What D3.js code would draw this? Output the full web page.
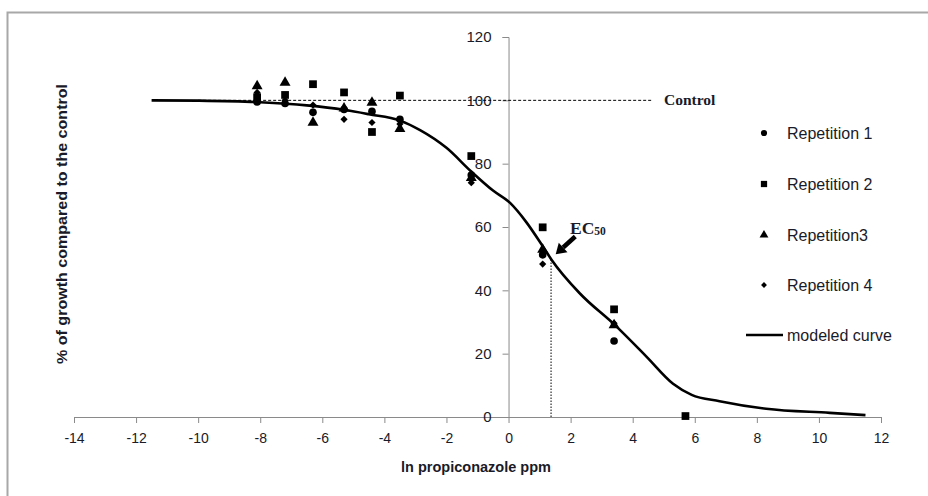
<!DOCTYPE html>
<html>
<head>
<meta charset="utf-8">
<script src="https://cdn.jsdelivr.net/npm/d3@7"></script>
<style>
  html, body { margin: 0; padding: 0; background: #fff; }
  .canvas { width: 928px; height: 496px; }
  text { fill: #1a1a28; }
</style>
</head>
<body>
<div class="canvas"></div>
<script>
// data
const lnDose = [-8.1, -7.2, -6.3, -5.3, -4.4, -3.5, -1.2, 1.1, 3.4, 5.7];
const rep1 = [99.5, 99, 96.2, 97.1, 96.5, 94, 76.4, 51.2, 24, null];
const rep2 = [101, 101.7, 105.1, 102.5, 90, 101.5, 82.4, 59.9, 34, 0.3];
const rep3 = [104.5, 105.6, 93, 97.5, 99.3, 91, 75.5, 52.9, 29, null];
const rep4 = [102.5, 100, 98.5, 94, 93, 92.5, 74, 48.3, 29.6, null];

const curveX = [-11.5, -10, -8, -6.5, -5.3, -4.5, -3.5, -2.85, -2, -1.2, -0.5, 0.05, 0.56, 1.11, 1.39, 2.3, 3.43, 4.45, 5.3, 5.9, 6.8, 8.3, 10.35, 11.5];
const curveY = [100, 99.9, 99.4, 98.4, 97, 95.6, 93.6, 90.6, 85, 77.5, 71.5, 67.6, 61.7, 53.8, 49.6, 39, 29, 19, 10.5, 7, 5, 2.6, 1.3, 0.6];

const xTicks = d3.range(-14, 13, 2);
const yTicks = [0, 20, 40, 60, 80, 100, 120];
const controlLevel = 100, controlFrom = -10, controlTo = 4.65;
const ec50 = 1.37;

const series = [
  { name: 'Repetition 1', values: rep1, sym: d3.symbolCircle, size: 46, rot: 0 },
  { name: 'Repetition 2', values: rep2, sym: d3.symbolSquare, size: 60, rot: 0 },
  { name: 'Repetition3', values: rep3, sym: d3.symbolTriangle, size: 52, rot: 0 },
  { name: 'Repetition 4', values: rep4, sym: d3.symbolSquare, size: 26, rot: 45 }
];

let width = 928, height = 496;
const svg = d3.select('.canvas')
    .append('svg')
    .attr('width', width)
    .attr('height', height)
    ;

// outer frame (only top + left visible)
svg.append('path')
    .attr('d', `M7.5,${height} V12.5 H${width}`)
    .attr('fill', 'none')
    .attr('stroke', '#a8a8a8')
    .attr('stroke-width', 2);

const xScale = d3.scaleLinear().domain([-14, 12]).range([74, 881]);
const yScale = d3.scaleLinear().domain([0, 120]).range([417, 37]);

const axisFont = '"Liberation Sans", Arial, sans-serif';
const plain = d => String(d);

// x axis
const xAxis = d3.axisBottom(xScale).tickValues(xTicks).tickFormat(plain).tickSize(6).tickSizeOuter(6);
svg.append('g')
    .attr('id', 'x-axis')
    .attr('transform', `translate(0, ${yScale(0)})`)
    .call(xAxis)
    .call(g => g.select('.domain').attr('stroke', '#8a8a8a'))
    .call(g => g.selectAll('.tick line').attr('stroke', '#8a8a8a'))
    .call(g => g.selectAll('.tick text')
        .attr('y', 16)
        .attr('dy', '0.71em')
        .attr('font-family', axisFont)
        .attr('font-size', 14)
        .attr('fill', '#1a1a28'))
    ;

// y axis sits at x = 0
const yAxis = d3.axisLeft(yScale).tickValues(yTicks).tickFormat(plain).tickSize(6).tickSizeOuter(6);
svg.append('g')
    .attr('id', 'y-axis')
    .attr('transform', `translate(${xScale(0)}, 0)`)
    .call(yAxis)
    .call(g => g.select('.domain').attr('stroke', '#8a8a8a'))
    .call(g => g.selectAll('.tick line').attr('stroke', '#8a8a8a'))
    .call(g => g.selectAll('.tick text')
        .attr('x', -17)
        .attr('font-family', axisFont)
        .attr('font-size', 15)
        .attr('fill', '#1a1a28'))
    ;

// axis titles
svg.append('text')
    .attr('x', 476)
    .attr('y', 472)
    .attr('text-anchor', 'middle')
    .attr('font-family', axisFont)
    .attr('font-weight', 'bold')
    .attr('font-size', 14.5)
    .attr('textLength', 150)
    .attr('lengthAdjust', 'spacingAndGlyphs')
    .text('ln propiconazole  ppm');

svg.append('text')
    .attr('transform', `translate(67, 224) rotate(-90)`)
    .attr('text-anchor', 'middle')
    .attr('font-family', axisFont)
    .attr('font-weight', 'bold')
    .attr('font-size', 14.5)
    .attr('textLength', 280)
    .attr('lengthAdjust', 'spacingAndGlyphs')
    .text('% of growth compared to the control');

// control line
svg.append('line')
    .attr('x1', xScale(controlFrom)).attr('x2', xScale(controlTo))
    .attr('y1', yScale(controlLevel)).attr('y2', yScale(controlLevel))
    .attr('stroke', '#000')
    .attr('stroke-width', 1)
    .attr('stroke-dasharray', '3,2');

svg.append('text')
    .attr('x', 664)
    .attr('y', yScale(controlLevel) + 5)
    .attr('font-family', '"Liberation Serif", "Times New Roman", serif')
    .attr('font-weight', 'bold')
    .attr('font-size', 15.5)
    .attr('fill', '#000')
    .text('Control');

// EC50 marker line
svg.append('line')
    .attr('x1', xScale(ec50)).attr('x2', xScale(ec50))
    .attr('y1', yScale(0)).attr('y2', yScale(50))
    .attr('stroke', '#000')
    .attr('stroke-width', 1)
    .attr('stroke-dasharray', '1.5,1.5');

// modeled curve
const line = d3.line()
    .x((d, i) => xScale(curveX[i]))
    .y(d => yScale(d))
    .curve(d3.curveMonotoneX);

svg.append('path')
    .datum(curveY)
    .attr('d', line)
    .attr('fill', 'none')
    .attr('stroke', '#000')
    .attr('stroke-width', 2.6);

// points
series.forEach(s => {
    svg.append('g')
        .selectAll('path')
        .data(s.values.map((v, i) => [lnDose[i], v]).filter(d => d[1] != null))
        .enter()
        .append('path')
        .attr('d', d3.symbol().type(s.sym).size(s.size))
        .attr('transform', d => `translate(${xScale(d[0])}, ${yScale(d[1])}) rotate(${s.rot})`)
        .attr('fill', '#000');
});

// EC50 arrow
const tail = [2.15, 57], tip = [1.52, 51.4];
const tx = xScale(tail[0]), ty = yScale(tail[1]), px = xScale(tip[0]), py = yScale(tip[1]);
const ang = Math.atan2(py - ty, px - tx);
const headLen = 10, headW = 6.5;
const bx = px - headLen * Math.cos(ang), by = py - headLen * Math.sin(ang);
svg.append('line')
    .attr('x1', tx).attr('y1', ty).attr('x2', bx).attr('y2', by)
    .attr('stroke', '#000').attr('stroke-width', 4.5);
svg.append('path')
    .attr('d', `M${px},${py} L${bx + headW * Math.sin(ang)},${by - headW * Math.cos(ang)} L${bx - headW * Math.sin(ang)},${by + headW * Math.cos(ang)} Z`)
    .attr('fill', '#000');

const ecText = svg.append('text')
    .attr('x', 570)
    .attr('y', 234)
    .attr('font-family', '"Liberation Serif", "Times New Roman", serif')
    .attr('font-weight', 'bold')
    .attr('fill', '#000');
ecText.append('tspan').attr('font-size', 17.5).text('EC');
ecText.append('tspan').attr('font-size', 11.5).attr('dy', 1).text('50');

// legend
const legendY = [133, 184, 235, 285];
const legend = svg.append('g');
series.forEach((s, i) => {
    legend.append('path')
        .attr('d', d3.symbol().type(s.sym).size(s.size * 0.65))
        .attr('transform', `translate(764, ${legendY[i]}) rotate(${s.rot})`)
        .attr('fill', '#000');
    legend.append('text')
        .attr('x', 787)
        .attr('y', legendY[i] + 5.5)
        .attr('font-family', axisFont)
        .attr('font-size', 16)
        .text(s.name);
});
legend.append('line')
    .attr('x1', 746).attr('x2', 783)
    .attr('y1', 335).attr('y2', 335)
    .attr('stroke', '#000').attr('stroke-width', 2.6);
legend.append('text')
    .attr('x', 787)
    .attr('y', 340.5)
    .attr('font-family', axisFont)
    .attr('font-size', 16)
    .text('modeled curve');
</script>
</body>
</html>
